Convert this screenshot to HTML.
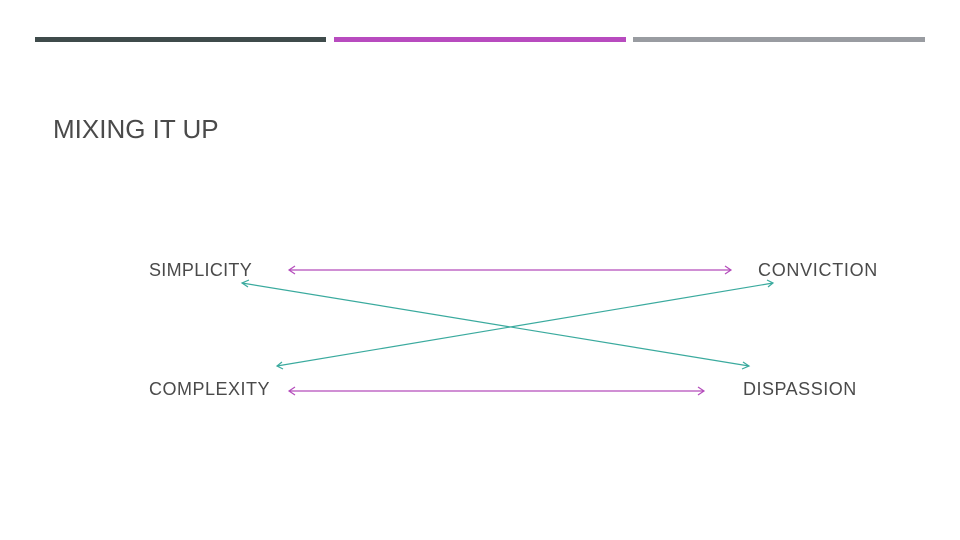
<!DOCTYPE html>
<html><head><style>
body{margin:0;width:960px;height:540px;background:#fff;position:relative;overflow:hidden;font-family:"Liberation Sans",sans-serif;color:#4a4a4a}
.b{position:absolute;top:37px;height:5px}
.t{position:absolute;white-space:nowrap}
.l{font-size:18px;letter-spacing:0.5px}
</style></head><body>
<div class="b" style="left:35px;width:291px;background:#3f4b4b"></div>
<div class="b" style="left:334px;width:292px;background:#b84bbf"></div>
<div class="b" style="left:633px;width:292px;background:#999ca1"></div>
<div class="t" style="left:53px;top:114px;font-size:26px;color:#4a4a4a">MIXING IT UP</div>
<div class="t l" style="left:149px;top:260px;letter-spacing:0.3px">SIMPLICITY</div>
<div class="t l" style="left:758px;top:260px;letter-spacing:0.7px">CONVICTION</div>
<div class="t l" style="left:149px;top:379px">COMPLEXITY</div>
<div class="t l" style="left:743px;top:379px">DISPASSION</div>
<svg width="960" height="540" style="position:absolute;left:0;top:0" fill="none" stroke-width="1.2">
<g stroke="#b44cbb">
<line x1="289" y1="270" x2="731" y2="270"/><polyline points="295,266 289,270 295,274"/><polyline points="725,266 731,270 725,274"/>
<line x1="289" y1="391" x2="704" y2="391"/><polyline points="295,387 289,391 295,395"/><polyline points="698,387 704,391 698,395"/>
</g>
<g stroke="#3aaa9e">
<line x1="242" y1="283" x2="749" y2="366"/><polyline points="249,280 242,283 248,287"/><polyline points="742,369 749,366 743,362"/>
<line x1="277" y1="366" x2="773" y2="283"/><polyline points="283,369 277,366 282,362"/><polyline points="767,280 773,283 768,287"/>
</g>
</svg>
</body></html>
